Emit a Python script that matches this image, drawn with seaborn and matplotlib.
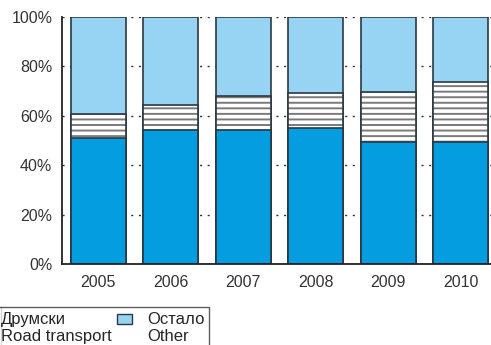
import matplotlib
matplotlib.use("Agg")
import matplotlib.pyplot as plt
from matplotlib.patches import Patch, Rectangle
from matplotlib.lines import Line2D
from matplotlib.legend_handler import HandlerPatch
import seaborn as sns

# share of freight transport (%)
years = ["2005", "2006", "2007", "2008", "2009", "2010"]
road = [51.0, 54.3, 54.3, 55.0, 49.4, 49.4]
middle = [9.7, 10.1, 13.7, 14.2, 20.2, 24.3]   # hatched segment
other = [100 - r - m for r, m in zip(road, middle)]
yticks = [0, 20, 40, 60, 80, 100]
ytick_labels = ["0%", "20%", "40%", "60%", "80%", "100%"]

c_road = "#049ee0"
c_other = "#97d4f4"
c_edge = "#2a3842"

sns.set_style("white")
plt.rcParams["font.family"] = ["Liberation Sans", "DejaVu Sans"]
plt.rcParams["hatch.linewidth"] = 1.4

fig = plt.figure(figsize=(4.91, 3.45), dpi=100)
ax = fig.add_axes([62 / 491, 81 / 345, 1 - 62 / 491, 247 / 345])

cum_mid = [r + m for r, m in zip(road, middle)]
total = [r + m + o for r, m, o in zip(road, middle, other)]

w = 0.76
sns.barplot(x=years, y=total, color=c_other, width=w, saturation=1,
            edgecolor=c_edge, linewidth=1.2, ax=ax, zorder=2)
n0 = len(ax.patches)
sns.barplot(x=years, y=cum_mid, color="white", width=w, saturation=1,
            edgecolor="#7a7a7a", linewidth=0, ax=ax, zorder=3)
for p in ax.patches[n0:]:
    p.set_hatch("---")
sns.barplot(x=years, y=cum_mid, color=c_edge, width=w, fill=False,
            linewidth=1.2, ax=ax, zorder=4)
sns.barplot(x=years, y=road, color=c_road, width=w, saturation=1,
            edgecolor=c_edge, linewidth=1.2, ax=ax, zorder=5)

ax.set_xlim(-0.5, 5.42)
ax.set_ylim(0, 100)
ax.set_yticks(yticks)
ax.set_yticklabels(ytick_labels)
ax.set_xlabel("")
ax.set_ylabel("")
ax.yaxis.grid(True, linestyle=(0, (1.5, 4)), color="#333333", linewidth=1)
ax.set_axisbelow(True)
for s in ["top", "right"]:
    ax.spines[s].set_visible(False)
for s in ["left", "bottom"]:
    ax.spines[s].set_color("#222222")
    ax.spines[s].set_linewidth(1.3)
    ax.spines[s].set_zorder(6)
ax.tick_params(axis="both", labelsize=11.5, labelcolor="#333333",
               color="#555555", length=3, width=1, direction="out")
ax.tick_params(axis="x", pad=5)
ax.tick_params(axis="y", pad=4)


def top_patch(legend, orig_handle, xdescent, ydescent, width, height, fontsize):
    # put the swatch next to the first line of the two-line label
    return Rectangle((-xdescent, -ydescent + 0.55 * fontsize), width, height)


handles = [Patch(facecolor=c_road, edgecolor=c_edge),
           Patch(facecolor=c_other, edgecolor=c_edge)]
labels = ["Друмски\nRoad transport", "Остало\nOther"]
leg = fig.legend(handles, labels, ncol=2, loc="upper left",
                 bbox_to_anchor=(-34 / 491, 1 - 307 / 345),
                 borderaxespad=0, fontsize=12, frameon=True, fancybox=False,
                 handlelength=0.9, handleheight=0.5, handletextpad=0.9,
                 columnspacing=0.3, borderpad=0.3, labelspacing=0.2,
                 handler_map={Patch: HandlerPatch(patch_func=top_patch)})
leg.get_frame().set_edgecolor("#333333")
leg.get_frame().set_linewidth(1.0)
fig.add_artist(Line2D([0.5 / 491, 0.5 / 491], [0, 1 - 307 / 345],
                      color="#333333", linewidth=1.0))

fig.savefig("out.png", dpi=100)
